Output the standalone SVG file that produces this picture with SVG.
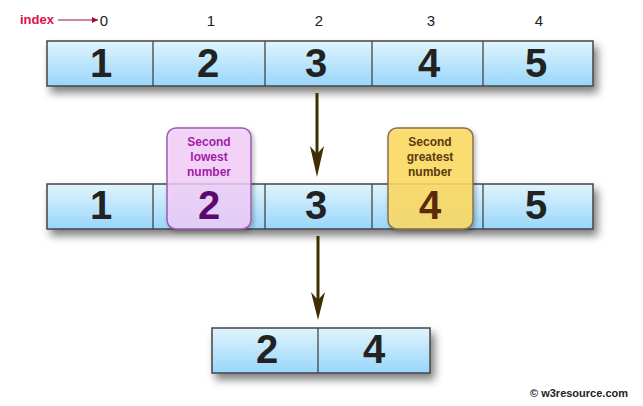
<svg xmlns="http://www.w3.org/2000/svg" width="643" height="406" viewBox="0 0 643 406">
<defs>
<linearGradient id="cellg" x1="0" y1="0" x2="0" y2="1">
<stop offset="0" stop-color="#e0f4fd"/>
<stop offset="1" stop-color="#98d6fa"/>
</linearGradient>
<filter id="sh" x="-10%" y="-30%" width="125%" height="190%">
<feDropShadow dx="4" dy="6" stdDeviation="4" flood-color="#000" flood-opacity="0.5"/>
</filter>
<filter id="sh2" x="-20%" y="-20%" width="150%" height="150%">
<feDropShadow dx="2" dy="2" stdDeviation="2" flood-color="#000" flood-opacity="0.3"/>
</filter>
<marker id="idx" viewBox="0 0 10 10" refX="10" refY="5" markerWidth="8" markerHeight="6" orient="auto" markerUnits="userSpaceOnUse">
<path d="M0,0 L10,5 L0,10 z" fill="#a0103a"/>
</marker>
</defs>
<style>
.arr{fill:url(#cellg);stroke:#444;stroke-width:1.5}
.div{stroke:#444;stroke-width:1.3}
.num{font-family:"Liberation Sans",Arial,sans-serif;font-weight:bold;font-size:40px;fill:#222;text-anchor:middle}
.idx{font-family:"Liberation Sans",Arial,sans-serif;font-size:15px;fill:#222;text-anchor:middle}
.lbl{font-family:"Liberation Sans",Arial,sans-serif;font-weight:bold;font-size:12px;text-anchor:middle}
.conn{stroke:#3f2f00;stroke-width:3;fill:none}
.head{fill:#3f2f00}
</style>
<rect width="643" height="406" fill="#fff"/>

<g id="index-label">
<text x="20" y="24" font-family="'Liberation Sans',Arial,sans-serif" font-weight="bold" font-size="13" fill="#e0104a">index</text>
<line x1="58" y1="20" x2="98" y2="20" stroke="#a0103a" stroke-width="1.2" marker-end="url(#idx)"/>
<text class="idx" x="104" y="26">0</text>
<text class="idx" x="211" y="26">1</text>
<text class="idx" x="319" y="26">2</text>
<text class="idx" x="431" y="26">3</text>
<text class="idx" x="539" y="26">4</text>
</g>

<g id="array-top">
<rect class="arr" x="47" y="41" width="546" height="45" filter="url(#sh)"/>
<line class="div" x1="153" y1="41" x2="153" y2="86"/>
<line class="div" x1="265" y1="41" x2="265" y2="86"/>
<line class="div" x1="372" y1="41" x2="372" y2="86"/>
<line class="div" x1="483" y1="41" x2="483" y2="86"/>
<text class="num" x="101" y="77">1</text>
<text class="num" x="208" y="77">2</text>
<text class="num" x="316" y="77">3</text>
<text class="num" x="429" y="77">4</text>
<text class="num" x="536" y="77">5</text>
</g>

<g id="array-middle">
<rect class="arr" x="47" y="184" width="546" height="45" filter="url(#sh)"/>
<line class="div" x1="153" y1="184" x2="153" y2="229"/>
<line class="div" x1="265" y1="184" x2="265" y2="229"/>
<line class="div" x1="372" y1="184" x2="372" y2="229"/>
<line class="div" x1="483" y1="184" x2="483" y2="229"/>
<text class="num" x="101" y="219">1</text>
<text class="num" x="316" y="219">3</text>
<text class="num" x="536" y="219">5</text>
</g>

<g id="second-lowest">
<rect x="167" y="128" width="84" height="101" rx="9" fill="#f6d0fc" fill-opacity="0.78" stroke="#9a5cb4" stroke-width="1.5" filter="url(#sh2)"/>
<text class="lbl" x="209" y="146" fill="#a21ca8">Second</text>
<text class="lbl" x="209" y="161" fill="#a21ca8">lowest</text>
<text class="lbl" x="209" y="176" fill="#a21ca8">number</text>
<text class="num" x="209" y="219" style="fill:#5a0a6e">2</text>
</g>

<g id="second-greatest">
<rect x="388" y="128" width="85" height="101" rx="9" fill="#ffdc60" fill-opacity="0.85" stroke="#8a7050" stroke-width="1.5" filter="url(#sh2)"/>
<text class="lbl" x="430" y="146" fill="#5a3a10">Second</text>
<text class="lbl" x="430" y="161" fill="#5a3a10">greatest</text>
<text class="lbl" x="430" y="176" fill="#5a3a10">number</text>
<text class="num" x="430" y="219" style="fill:#5a2a0a">4</text>
</g>

<g id="array-result">
<rect class="arr" x="212" y="328" width="218" height="45" filter="url(#sh)"/>
<line class="div" x1="318" y1="328" x2="318" y2="373"/>
<text class="num" x="267" y="363">2</text>
<text class="num" x="374" y="363">4</text>
</g>

<g id="connectors">
<line class="conn" x1="317" y1="93" x2="317" y2="160"/>
<path class="head" d="M317,177 L310,146 L317,154 L324,146 z"/>
<line class="conn" x1="318" y1="236" x2="318" y2="303"/>
<path class="head" d="M318,320 L311,292 L318,300 L325,292 z"/>
</g>

<g id="copyright">
<text x="628" y="397" text-anchor="end" font-family="'Liberation Sans',Arial,sans-serif" font-weight="bold" font-size="11" fill="#222">© w3resource.com</text>
</g>
</svg>
